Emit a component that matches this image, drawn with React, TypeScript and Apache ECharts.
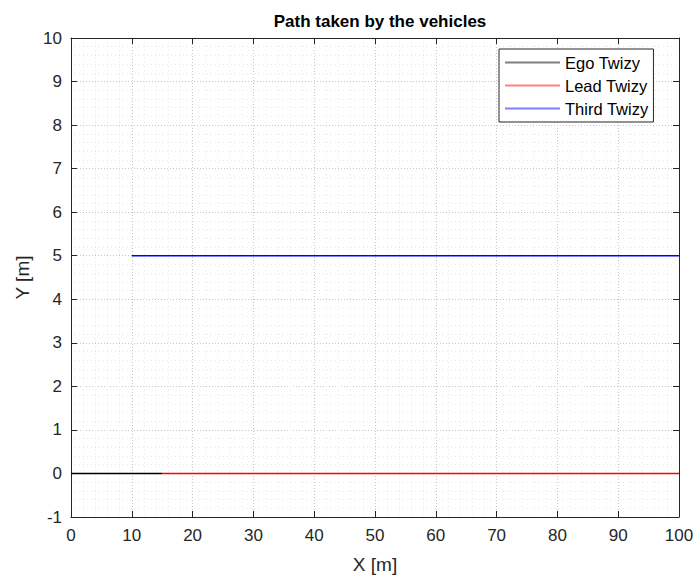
import React, { useEffect, useRef } from "react";
import * as echarts from "echarts";

const seriesNames = ["Ego Twizy", "Lead Twizy", "Third Twizy"];
const seriesColors = ["#000000", "#ff0000", "#0000ff"];
const legendColors = ["#808080", "#ff8080", "#7f7fff"];
const egoPath: [number, number][] = [[0, 0], [15, 0]];
const leadPath: [number, number][] = [[15, 0], [100, 0]];
const thirdPath: [number, number][] = [[10, 5], [100, 5]];

const xMin = 0, xMax = 100, xStep = 10;
const yMin = -1, yMax = 10, yStep = 1;

export default function App() {
  const ref = useRef<HTMLDivElement>(null);
  useEffect(() => {
    if (!ref.current) return;
    const chart = echarts.init(ref.current, null, { renderer: "svg" });
    const font = "'Liberation Sans', Arial, Helvetica, sans-serif";
    const axisColor = "#262626";
    const majorGrid = { show: true, lineStyle: { color: "#c8c8c8", type: [1, 2] as any, width: 1 } };
    const minorGrid = { show: true, lineStyle: { color: "#e6e6e6", type: [1, 3] as any, width: 1 } };
    const paths = [egoPath, leadPath, thirdPath];
    chart.setOption({
      animation: false,
      backgroundColor: "#ffffff",
      textStyle: { fontFamily: font },
      title: {
        text: "Path taken by the vehicles",
        left: 375,
        top: 8,
        textAlign: "center",
        textStyle: { fontFamily: font, fontSize: 17, fontWeight: "bold", color: "#000" },
      },
      legend: {
        orient: "vertical",
        left: 499,
        top: 49,
        padding: [5, 5, 5, 6],
        itemWidth: 55,
        itemHeight: 2,
        itemGap: 6,
        icon: "rect",
        backgroundColor: "#ffffff",
        borderColor: "#262626",
        borderWidth: 1,
        textStyle: { fontFamily: font, fontSize: 16.5, color: "#000" },
        data: seriesNames.map((n, i) => ({ name: n, itemStyle: { color: legendColors[i] } })),
      },
      grid: { left: 71, right: 17, top: 38, bottom: 60, containLabel: false, outerBoundsMode: "none" },
      xAxis: [
        {
          type: "value", min: xMin, max: xMax, interval: xStep,
          name: "X [m]", nameLocation: "middle", nameGap: 38,
          nameTextStyle: { fontFamily: font, fontSize: 19, color: axisColor },
          axisLine: { show: true, onZero: false, lineStyle: { color: axisColor } },
          axisTick: { show: true, inside: true, length: 6, lineStyle: { color: axisColor } },
          axisLabel: { fontFamily: font, fontSize: 17, color: axisColor, margin: 10 },
          splitLine: majorGrid,
          minorTick: { show: false, splitNumber: 5 },
          minorSplitLine: minorGrid,
        },
        {
          type: "value", min: xMin, max: xMax, interval: xStep, position: "top",
          axisLine: { show: true, onZero: false, lineStyle: { color: axisColor } },
          axisTick: { show: true, inside: true, length: 6, lineStyle: { color: axisColor } },
          axisLabel: { show: false },
          splitLine: { show: false },
        },
      ],
      yAxis: [
        {
          type: "value", min: yMin, max: yMax, interval: yStep,
          name: "Y [m]", nameLocation: "middle", nameGap: 37, nameRotate: 90,
          nameTextStyle: { fontFamily: font, fontSize: 19, color: axisColor },
          axisLine: { show: true, onZero: false, lineStyle: { color: axisColor } },
          axisTick: { show: true, inside: true, length: 6, lineStyle: { color: axisColor } },
          axisLabel: { fontFamily: font, fontSize: 17, color: axisColor, margin: 9 },
          splitLine: majorGrid,
          minorTick: { show: false, splitNumber: 5 },
          minorSplitLine: minorGrid,
        },
        {
          type: "value", min: yMin, max: yMax, interval: yStep, position: "right",
          axisLine: { show: true, onZero: false, lineStyle: { color: axisColor } },
          axisTick: { show: true, inside: true, length: 6, lineStyle: { color: axisColor } },
          axisLabel: { show: false },
          splitLine: { show: false },
        },
      ],
      series: seriesNames.map((n, i) => ({
        name: n,
        type: "line",
        data: paths[i],
        symbol: "none",
        lineStyle: { color: seriesColors[i], width: 1.5 },
        itemStyle: { color: seriesColors[i] },
        z: 3 + i,
      })),
    });
    return () => chart.dispose();
  }, []);
  return <div ref={ref} style={{ position: "fixed", left: 0, top: 0, width: 696, height: 577 }} />;
}
